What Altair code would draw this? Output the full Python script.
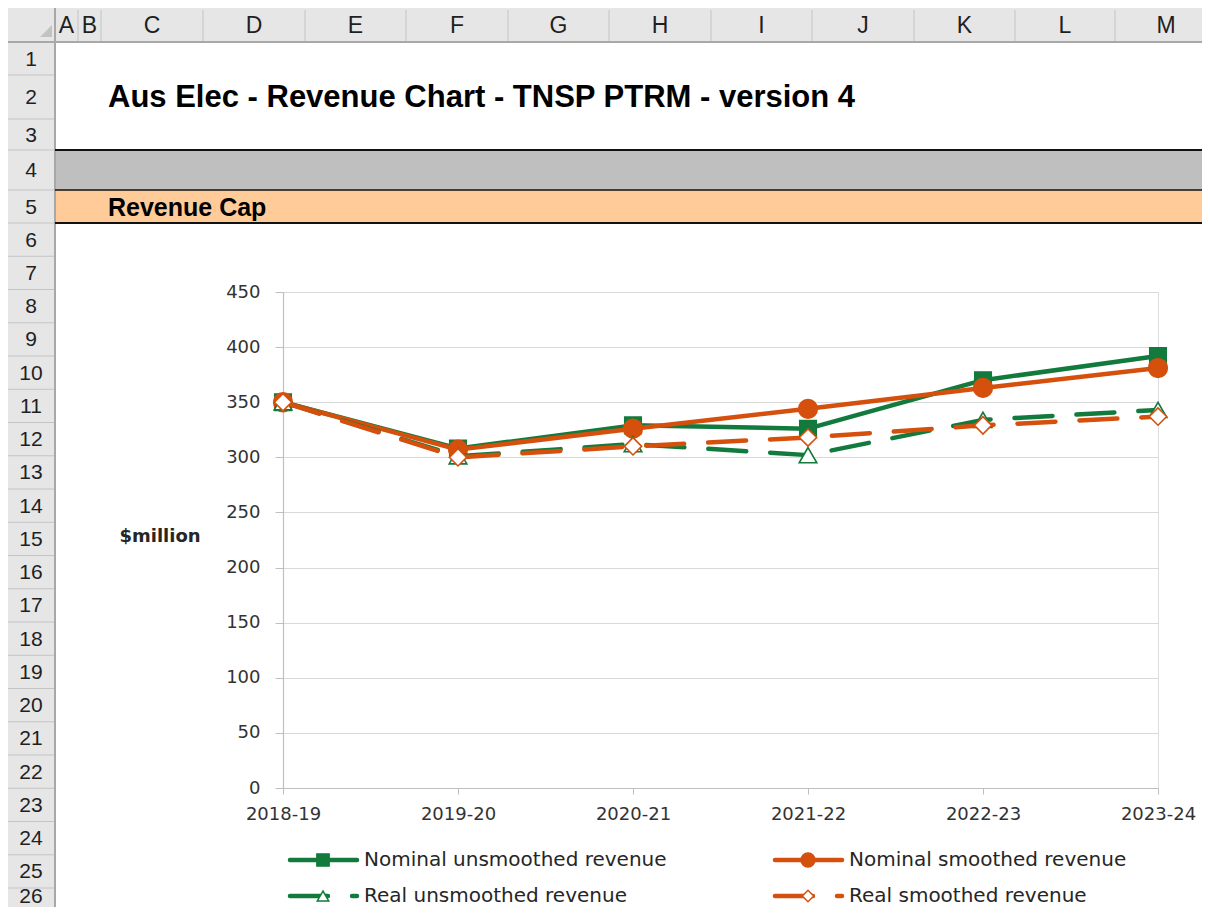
import altair as alt
import pandas as pd

# ---------------- data ----------------
periods = ["2018-19", "2019-20", "2020-21", "2021-22", "2022-23", "2023-24"]
series_names = [
    "Nominal unsmoothed revenue",
    "Nominal smoothed revenue",
    "Real unsmoothed revenue",
    "Real smoothed revenue",
]
nominal_unsmoothed = [350, 308, 329, 326, 370, 392]
nominal_smoothed = [350, 307, 326, 344, 363, 381]
real_unsmoothed = [350, 301, 312, 302, 334, 343]
real_smoothed = [350, 300, 310, 318, 329, 337]
y_ticks = [0, 50, 100, 150, 200, 250, 300, 350, 400, 450]

title_text = "Aus Elec - Revenue Chart - TNSP PTRM - version 4"
section_text = "Revenue Cap"
y_title = "$million"
col_letters = list("ABCDEFGHIJKLM")
row_numbers = list(range(1, 27))

series_values = [nominal_unsmoothed, nominal_smoothed, real_unsmoothed, real_smoothed]

# ---------------- styles / layout ----------------
GREEN = "#127a3c"
ORANGE = "#d4500c"
styles = [
    dict(color=GREEN, dash=None, shape="square", fill=GREEN, size=272, lsize=150),
    dict(color=ORANGE, dash=None, shape="circle", fill=ORANGE, size=350, lsize=190),
    dict(color=GREEN, dash=[38, 24], shape="triangle-up", fill="white", size=310, lsize=130),
    dict(color=ORANGE, dash=[38, 24], shape="diamond", fill="white", size=300, lsize=130),
]

W, H = 875, 496
OX, OY = 283, 292  # page position of plot origin


def rx(px):
    return px - OX


def ry(py):
    return py - OY


AXIS_FONT = "DejaVu Sans"
HDR_FONT = "Liberation Sans Narrow, Liberation Sans, Arial, sans-serif"

# ---------------- main chart ----------------
rows = []
for s, vals in zip(series_names, series_values):
    for p, v in zip(periods, vals):
        rows.append({"period": p, "series": s, "value": v})
df = pd.DataFrame(rows)

x_enc = alt.X(
    "period:O",
    sort=periods,
    scale=alt.Scale(type="point", domain=periods, padding=0),
    axis=alt.Axis(
        title=None, labelAngle=0, labelFont=AXIS_FONT, labelFontSize=18,
        labelColor="#333333", labelPadding=11, tickSize=6, tickColor="#bfbfbf",
        domainColor="#bfbfbf", domainWidth=1.2, grid=False,
    ),
)
y_enc = alt.Y(
    "value:Q",
    scale=alt.Scale(domain=[0, 450], nice=False),
    axis=alt.Axis(
        title=None, values=y_ticks, grid=True, gridColor="#d9d9d9", gridWidth=1.2,
        labelFont=AXIS_FONT, labelFontSize=18, labelColor="#333333",
        labelPadding=15, tickSize=8, tickColor="#bfbfbf", domainColor="#bfbfbf",
        domainWidth=1.2,
    ),
)

series_layers = []
for name, st in zip(series_names, styles):
    line_kw = dict(color=st["color"], strokeWidth=4.5, strokeCap="round", strokeJoin="round")
    if st["dash"]:
        line_kw["strokeDash"] = st["dash"]
    line = alt.Chart(df).mark_line(**line_kw).encode(x=x_enc, y=y_enc).transform_filter(
        alt.datum.series == name
    )
    pts = alt.Chart(df).mark_point(
        shape=st["shape"], filled=True, fill=st["fill"], stroke=st["color"],
        strokeWidth=1.6, size=st["size"], opacity=1,
    ).encode(x=x_enc, y=y_enc).transform_filter(alt.datum.series == name)
    series_layers += [line, pts]

main = alt.layer(*series_layers)

# ---------------- spreadsheet decoration ----------------
col_edges = [55, 78, 101, 203, 305, 406, 508, 609, 711, 812, 914, 1015, 1115, 1217]
row_edges = [42, 75, 119, 150, 190, 223] + [223 + 33.25 * k for k in range(1, 22)]

rects = pd.DataFrame([
    dict(x=rx(7), x2=rx(1202), y=ry(8), y2=ry(42), fill="#e6e6e6"),
    dict(x=rx(7), x2=rx(55), y=ry(42), y2=ry(907), fill="#e6e6e6"),
    dict(x=rx(55), x2=rx(1202), y=ry(150), y2=ry(190), fill="#bfbfbf"),
    dict(x=rx(55), x2=rx(1202), y=ry(190), y2=ry(223), fill="#ffcc99"),
])
rect_layer = alt.Chart(rects).mark_rect().encode(
    x=alt.X("x:Q", scale=None, axis=None),
    x2="x2:Q",
    y=alt.Y("y:Q", scale=None, axis=None),
    y2="y2:Q",
    fill=alt.Fill("fill:N", scale=None, legend=None),
)

lines = []
for e in col_edges[:-1]:
    lines.append(dict(x=rx(e), x2=rx(e), y=ry(10), y2=ry(42), c="#c4c4c4", w=1))
for e in row_edges[1:]:
    lines.append(dict(x=rx(7), x2=rx(55), y=ry(e), y2=ry(e), c="#c4c4c4", w=1))
lines += [
    dict(x=rx(7), x2=rx(1202), y=ry(42), y2=ry(42), c="#a8a8a8", w=2),
    dict(x=rx(55), x2=rx(55), y=ry(8), y2=ry(907), c="#a8a8a8", w=2),
    dict(x=rx(55), x2=rx(1202), y=ry(150), y2=ry(150), c="#111111", w=2),
    dict(x=rx(55), x2=rx(1202), y=ry(190), y2=ry(190), c="#111111", w=1.5),
    dict(x=rx(55), x2=rx(1202), y=ry(223), y2=ry(223), c="#111111", w=2),
]
rule_layer = alt.Chart(pd.DataFrame(lines)).mark_rule().encode(
    x=alt.X("x:Q", scale=None, axis=None),
    x2="x2:Q",
    y=alt.Y("y:Q", scale=None, axis=None),
    y2="y2:Q",
    stroke=alt.Stroke("c:N", scale=None, legend=None),
    strokeWidth=alt.StrokeWidth("w:Q", scale=None, legend=None),
)

col_lbl = pd.DataFrame([
    dict(t=l, x=rx((col_edges[i] + col_edges[i + 1]) / 2), y=ry(26))
    for i, l in enumerate(col_letters)
])
col_text = alt.Chart(col_lbl).mark_text(
    font=HDR_FONT, fontSize=23, color="#1f1f1f", align="center", baseline="middle"
).encode(
    x=alt.X("x:Q", scale=None, axis=None),
    y=alt.Y("y:Q", scale=None, axis=None),
    text="t:N",
)

row_centers = [(row_edges[i] + row_edges[i + 1]) / 2 + 1 for i in range(len(row_edges) - 1)]
row_centers[-1] = 897
row_lbl = pd.DataFrame([
    dict(t=str(n), x=rx(31), y=ry(row_centers[i])) for i, n in enumerate(row_numbers)
])
row_text = alt.Chart(row_lbl).mark_text(
    font=HDR_FONT, fontSize=21, color="#1f1f1f", align="center", baseline="middle"
).encode(
    x=alt.X("x:Q", scale=None, axis=None),
    y=alt.Y("y:Q", scale=None, axis=None),
    text="t:N",
)

corner = alt.Chart(pd.DataFrame([dict(x=rx(46), y=ry(31))])).mark_point(
    shape="M1,-1L1,1L-1,1Z", filled=True, color="#c2c2c2", size=140, opacity=1
).encode(x=alt.X("x:Q", scale=None, axis=None), y=alt.Y("y:Q", scale=None, axis=None))

title_layer = alt.Chart(pd.DataFrame([dict(t=title_text, x=rx(108), y=ry(98))])).mark_text(
    font="Liberation Sans", fontWeight="bold", fontSize=31, color="#000000",
    align="left", baseline="middle",
).encode(x=alt.X("x:Q", scale=None, axis=None), y=alt.Y("y:Q", scale=None, axis=None), text="t:N")

section_layer = alt.Chart(pd.DataFrame([dict(t=section_text, x=rx(108), y=ry(208))])).mark_text(
    font="Liberation Sans", fontWeight="bold", fontSize=25, color="#000000",
    align="left", baseline="middle",
).encode(x=alt.X("x:Q", scale=None, axis=None), y=alt.Y("y:Q", scale=None, axis=None), text="t:N")

ytitle_layer = alt.Chart(pd.DataFrame([dict(t=y_title, x=rx(160), y=ry(537))])).mark_text(
    font=AXIS_FONT, fontWeight="bold", fontSize=18, color="#262626",
    align="center", baseline="middle",
).encode(x=alt.X("x:Q", scale=None, axis=None), y=alt.Y("y:Q", scale=None, axis=None), text="t:N")

# ---------------- legend (Excel style: line with marker) ----------------
leg_x0 = [290, 775]
leg_y = [860, 896]
leg_layers = []
for i, (name, st) in enumerate(zip(series_names, styles)):
    c, r = i % 2, i // 2
    x0 = leg_x0[c]
    y = leg_y[r]
    d = pd.DataFrame([dict(x=rx(x0), x2=rx(x0 + 67), xm=rx(x0 + 33), xt=rx(x0 + 74), y=ry(y), t=name)])
    rk = dict(color=st["color"], strokeWidth=4.5, strokeCap="round")
    if st["dash"]:
        rk["strokeDash"] = st["dash"]
    leg_layers.append(alt.Chart(d).mark_rule(**rk).encode(
        x=alt.X("x:Q", scale=None, axis=None), x2="x2:Q",
        y=alt.Y("y:Q", scale=None, axis=None),
    ))
    leg_layers.append(alt.Chart(d).mark_point(
        shape=st["shape"], filled=True, fill=st["fill"], stroke=st["color"],
        strokeWidth=1.5, size=st["lsize"], opacity=1,
    ).encode(x=alt.X("xm:Q", scale=None, axis=None), y=alt.Y("y:Q", scale=None, axis=None)))
    leg_layers.append(alt.Chart(d).mark_text(
        font=AXIS_FONT, fontSize=20, color="#262626", align="left", baseline="middle",
    ).encode(x=alt.X("xt:Q", scale=None, axis=None), y=alt.Y("y:Q", scale=None, axis=None), text="t:N"))

chart = alt.layer(
    rect_layer, rule_layer, col_text, row_text, corner, title_layer, section_layer,
    ytitle_layer, main, *leg_layers,
).properties(
    width=W,
    height=H,
    padding={"left": 275, "top": 284, "right": 44, "bottom": 119},
    autosize=alt.AutoSizeParams(type="none"),
).configure_view(stroke=None).configure(background="white")

chart.save("out.html", embed_options={"renderer": "svg", "actions": False})
